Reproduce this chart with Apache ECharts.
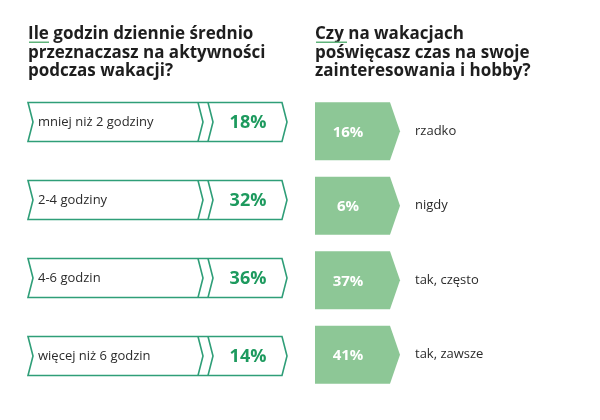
<!DOCTYPE html>
<html><head><meta charset="utf-8">
<script src="https://cdn.jsdelivr.net/npm/echarts@6/dist/echarts.min.js"></script>
<style>html,body{margin:0;padding:0;background:#fff}#c{width:600px;height:420px}</style>
</head><body><div id="c"></div>
<script>
const leftTitle = ['Ile godzin dziennie średnio', 'przeznaczasz na aktywności', 'podczas wakacji?'];
const rightTitle = ['Czy na wakacjach', 'poświęcasz czas na swoje', 'zainteresowania i hobby?'];
const leftCategories = ['mniej niż 2 godziny', '2-4 godziny', '4-6 godzin', 'więcej niż 6 godzin'];
const leftValues = [18, 32, 36, 14];
const rightCategories = ['rzadko', 'nigdy', 'tak, często', 'tak, zawsze'];
const rightValues = [16, 6, 37, 41];

const FONT = '"Open Sans", sans-serif';
const OUTLINE = '#2f9e78';
const PCT = '#1d9a5e';
const FILL = '#8dc796';
const TXT = '#2b2b2b';

const chart = echarts.init(document.getElementById('c'), null, {renderer: 'canvas'});

function leftRender(params, api) {
  const idx = api.value(1);
  const y = api.coord([0, idx])[1];
  const cs = params.coordSys;
  const x0 = cs.x, x1 = cs.x + cs.width;
  const h = 39, t = y - h / 2, b = y + h / 2;
  const ls = {stroke: OUTLINE, lineWidth: 1.6, fill: null};
  return {
    type: 'group',
    children: [
      {type: 'polygon', shape: {points: [[x0, t], [x1 - 5, t], [x1, y], [x1 - 5, b], [x0, b], [x0 + 5, y]]},
        style: {stroke: OUTLINE, lineWidth: 1.6, fill: '#fff'}},
      {type: 'polyline', shape: {points: [[x0 + 170, t], [x0 + 175, y], [x0 + 170, b]]}, style: ls},
      {type: 'polyline', shape: {points: [[x0 + 180, t], [x0 + 185, y], [x0 + 180, b]]}, style: ls},
      {type: 'text', style: {text: leftCategories[idx], x: x0 + 10, y: y, fill: TXT,
        font: '13px ' + FONT, align: 'left', verticalAlign: 'middle'}},
      {type: 'text', style: {text: api.value(0) + '%', x: x0 + 220, y: y + 1, fill: PCT,
        font: 'bold 18px ' + FONT, align: 'center', verticalAlign: 'middle'}}
    ]
  };
}

function rightRender(params, api) {
  const idx = api.value(1);
  const y = api.coord([0, idx])[1];
  const cs = params.coordSys;
  const x0 = cs.x;
  const h = 58, t = y - h / 2, b = y + h / 2;
  return {
    type: 'group',
    children: [
      {type: 'polygon', shape: {points: [[x0, t], [x0 + 75, t], [x0 + 85, y], [x0 + 75, b], [x0, b]]},
        style: {fill: FILL, stroke: null}},
      {type: 'text', style: {text: api.value(0) + '%', x: x0 + 33, y: y + 1, fill: '#fff',
        font: 'bold 15px ' + FONT, align: 'center', verticalAlign: 'middle'}},
      {type: 'text', style: {text: rightCategories[idx], x: x0 + 100, y: y, fill: TXT,
        font: '13px ' + FONT, align: 'left', verticalAlign: 'middle'}}
    ]
  };
}

function titleGraphics(lines, x, underlineW) {
  const els = lines.map((s, i) => ({
    type: 'text', left: x, top: 26 + i * 18.5,
    style: {text: s, fill: '#1e1e1e', font: 'bold 17px ' + FONT}
  }));
  els.push({type: 'rect', left: x + 1, top: 41.5, shape: {width: underlineW, height: 1.5}, style: {fill: '#5fb37a'}});
  return els;
}

chart.setOption({
  animation: false,
  backgroundColor: '#fff',
  grid: [
    {left: 28, width: 259, top: 83, height: 312},
    {left: 315, width: 100, top: 94, height: 298}
  ],
  xAxis: [
    {type: 'value', gridIndex: 0, min: 0, max: 100, show: false},
    {type: 'value', gridIndex: 1, min: 0, max: 100, show: false}
  ],
  yAxis: [
    {type: 'category', gridIndex: 0, data: leftCategories, inverse: true, show: false},
    {type: 'category', gridIndex: 1, data: rightCategories, inverse: true, show: false}
  ],
  graphic: titleGraphics(leftTitle, 28, 20).concat(titleGraphics(rightTitle, 315, 31)),
  series: [
    {type: 'custom', xAxisIndex: 0, yAxisIndex: 0, renderItem: leftRender,
      data: leftValues.map((v, i) => [v, i]), encode: {x: 0, y: 1}, clip: false},
    {type: 'custom', xAxisIndex: 1, yAxisIndex: 1, renderItem: rightRender,
      data: rightValues.map((v, i) => [v, i]), encode: {x: 0, y: 1}, clip: false}
  ]
});
</script></body></html>
